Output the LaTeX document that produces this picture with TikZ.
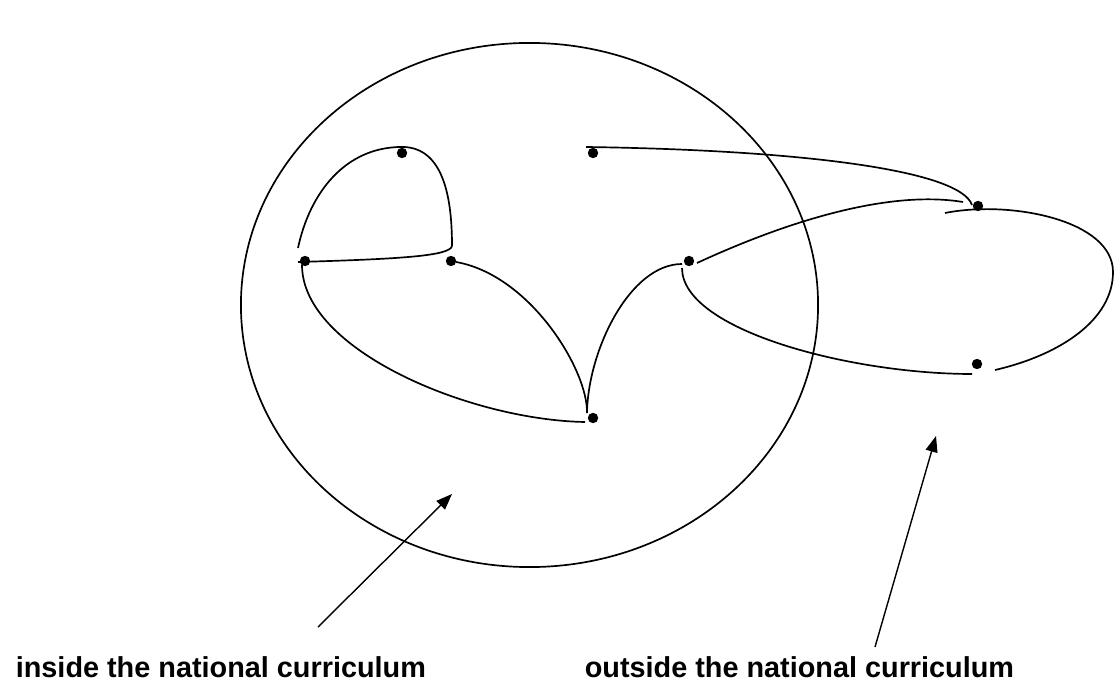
\documentclass[tikz,border=0pt]{standalone}
\usepackage{fontspec}
\setmainfont{Liberation Sans}
\usetikzlibrary{arrows.meta}
\tikzset{
  dot/.style={circle,fill,inner sep=0pt,minimum size=0.26cm},
  lab/.style={anchor=base west,inner sep=0pt,font=\fontsize{20.5}{24}\selectfont\bfseries},
  pointer/.style={-{Triangle[length=0.4cm,width=0.3cm]}}
}
\begin{document}
\begin{tikzpicture}[x=0.025cm,y=-0.025cm,line width=1.2pt]
\useasboundingbox (0,0) rectangle (1117,688);
% the curriculum
\draw (529.5,305) ellipse [x radius=7.2125cm, y radius=6.55cm];
% dots
\node[dot] (top) at (402,153) {};
\node[dot] (far) at (593,153) {};
\node[dot] (left) at (305,261) {};
\node[dot] (inner) at (451,261) {};
\node[dot] (right) at (689,261) {};
\node[dot] (low) at (593,418) {};
\node[dot] (outa) at (978,206) {};
\node[dot] (outb) at (977,364) {};
% free ends of the curves
\coordinate (loopa) at (298,248);
\coordinate (loopb) at (452,246);
\coordinate (lefta) at (298,262);
\coordinate (leftb) at (302,265);
\coordinate (innera) at (456,262);
\coordinate (cusp) at (587,413);
\coordinate (lowa) at (585,422);
\coordinate (righta) at (682,264);
\coordinate (rightb) at (682,268);
\coordinate (rightc) at (697,263);
\coordinate (fara) at (586,147);
\coordinate (farb) at (972,205);
\coordinate (outc) at (963,202);
\coordinate (outd) at (945,213);
\coordinate (oute) at (1113,272);
\coordinate (outf) at (995,370);
\coordinate (outg) at (972,374);
\draw (loopa) to[out=78,in=180] (top.north) to[out=0,in=90] (loopb);
\draw (lefta) .. controls (400,259) and (450,256) .. (loopb);
\draw (leftb) .. controls (302,350) and (470,420) .. (lowa);
\draw (innera) .. controls (530,275) and (588,370) .. (cusp);
\draw (cusp) .. controls (588,350) and (630,264) .. (righta);
\draw (rightb) .. controls (682,330) and (850,374) .. (outg);
\draw (fara) .. controls (800,150) and (960,170) .. (farb);
\draw (rightc) .. controls (790,220) and (890,190) .. (outc);
\draw (outd) .. controls (1010,200) and (1113,220) .. (oute)
  .. controls (1113,320) and (1060,355) .. (outf);
% labels
\node[lab] (inlab) at (15,677) {inside the national curriculum};
\node[lab] (outlab) at (584,677) {outside the national curriculum};
\coordinate (intail) at (318,627);
\coordinate (inhead) at (452,494);
\coordinate (outtail) at (875,647);
\coordinate (outhead) at (936,436);
\draw[pointer,line width=1pt] (intail) -- (inhead);
\draw[pointer,line width=1pt] (outtail) -- (outhead);
\end{tikzpicture}
\end{document}
